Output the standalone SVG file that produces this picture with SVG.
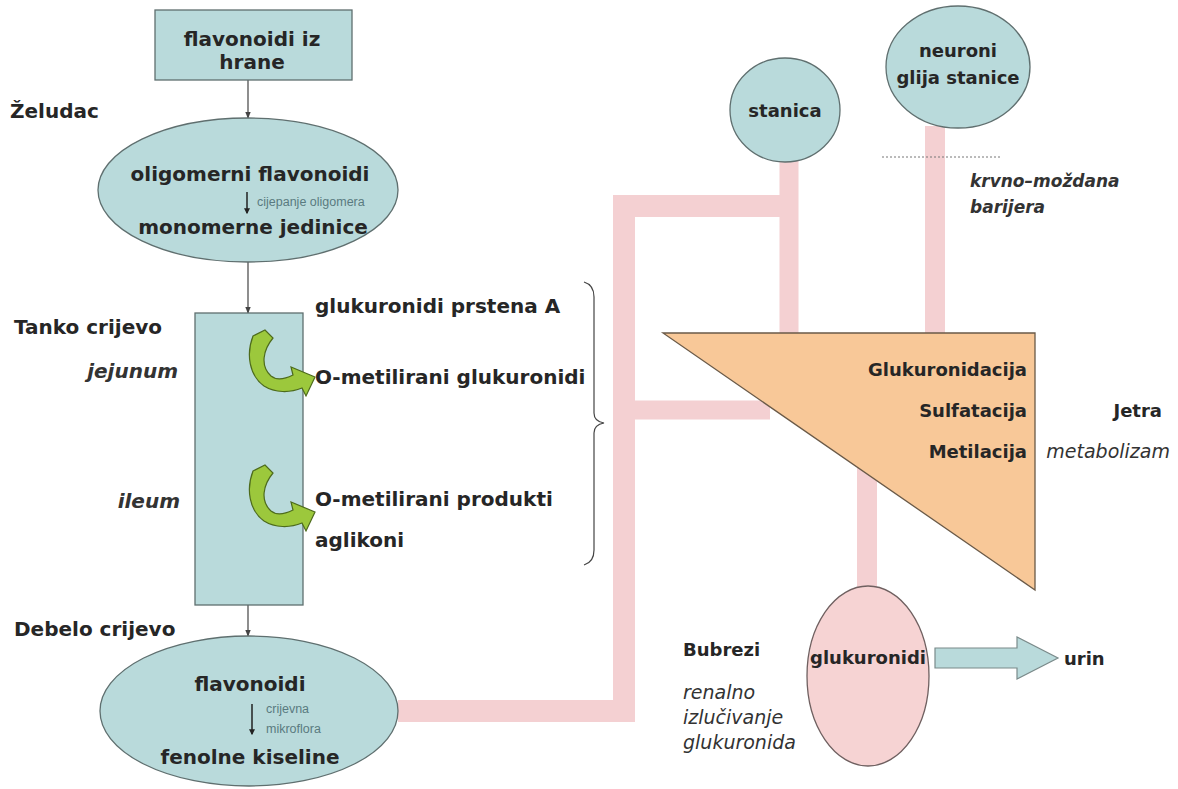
<svg xmlns="http://www.w3.org/2000/svg" width="1178" height="789" viewBox="0 0 1178 789">
<defs>
<style>
.d{font-family:"DejaVu Sans",Verdana,sans-serif;font-weight:bold;font-size:20px;fill:#262626}
.r{font-family:"DejaVu Sans",Verdana,sans-serif;font-weight:bold;font-size:18px;fill:#262626}
.di{font-family:"DejaVu Sans",Verdana,sans-serif;font-weight:bold;font-style:italic;font-size:20px;fill:#333}
.ri{font-family:"DejaVu Sans",Verdana,sans-serif;font-style:italic;font-size:19px;fill:#333}
.bi{font-family:"DejaVu Sans",Verdana,sans-serif;font-style:italic;font-weight:bold;font-size:17px;fill:#333}
.s{font-family:"Liberation Sans",Arial,sans-serif;font-size:12.5px;fill:#5a7a80}
.node{fill:#b9dadb;stroke:#5f6f6f;stroke-width:1.3}
.pipe{stroke:#f4d0d2;fill:none}
.thin{stroke:#444;stroke-width:1.2;fill:none}
.green{fill:#9cc83c;stroke:#4d6b1c;stroke-width:1.2}
</style>
<marker id="ah" viewBox="0 0 10 10" refX="9" refY="5" markerWidth="6" markerHeight="6" orient="auto"><path d="M0,1 L10,5 L0,9 Z" fill="#444"/></marker>
<marker id="ah2" viewBox="0 0 10 10" refX="8" refY="5" markerWidth="4" markerHeight="4" orient="auto"><path d="M0,0 L10,5 L0,10 Z" fill="#222"/></marker>
<path id="garrow" d="M8,6 L20,0 L28,8 C18,20 15,36 26,46 C32,51 40,49 48,45 L46,37 L70,47 L61,66 L57,58 C45,63 30,63 19,56 C4,45 1,24 8,6 Z"/>
</defs>
<rect width="1178" height="789" fill="#ffffff"/>

<g id="connectors">
<line class="thin" x1="248" y1="80" x2="248" y2="118" marker-end="url(#ah)"/>
<line class="thin" x1="248" y1="262" x2="248" y2="313" marker-end="url(#ah)"/>
<line class="thin" x1="248" y1="605" x2="248" y2="636" marker-end="url(#ah)"/>
<g class="pipe">
<path d="M398,711 H624 V206 H789" stroke-width="22"/>
<line x1="789" y1="158" x2="789" y2="334" stroke-width="19"/>
<line x1="624" y1="410" x2="770" y2="410" stroke-width="19"/>
<line x1="935" y1="126" x2="935" y2="334" stroke-width="20"/>
<line x1="867" y1="460" x2="867" y2="592" stroke-width="20"/>
</g>
<line x1="882" y1="157" x2="1002" y2="157" stroke="#777" stroke-width="1" stroke-dasharray="2,2"/>
<path class="thin" d="M584,282 C591,284 594,289 594,297 L594,413 C594,419 598,422 604,423 C598,424 594,427 594,433 L594,550 C594,558 591,563 584,565" stroke="#555"/>
</g>

<g id="hrana">
<rect class="node" x="155" y="10" width="197" height="70"/>
<text class="d" x="252" y="46" text-anchor="middle">flavonoidi iz</text>
<text class="d" x="252" y="69" text-anchor="middle">hrane</text>
</g>

<text class="d" x="10" y="118">Želudac</text>

<g id="zeludac">
<ellipse class="node" cx="248" cy="190" rx="150" ry="72"/>
<text class="d" x="250" y="181" text-anchor="middle">oligomerni flavonoidi</text>
<line x1="247" y1="192" x2="247" y2="213" stroke="#222" stroke-width="1.5" marker-end="url(#ah2)"/>
<text class="s" x="257" y="206">cijepanje oligomera</text>
<text class="d" x="253" y="234" text-anchor="middle">monomerne jedinice</text>
</g>

<text class="d" x="14" y="334">Tanko crijevo</text>
<text class="di" x="178" y="378" text-anchor="end">jejunum</text>
<text class="di" x="180" y="508" text-anchor="end">ileum</text>

<g id="tanko">
<rect class="node" x="195" y="313" width="108" height="292"/>
<use href="#garrow" class="green" x="245" y="330"/>
<use href="#garrow" class="green" x="245" y="465"/>
</g>

<g id="produkti">
<text class="d" x="315" y="313">glukuronidi prstena A</text>
<text class="d" x="315" y="384">O-metilirani glukuronidi</text>
<text class="d" x="315" y="506">O-metilirani produkti</text>
<text class="d" x="315" y="547">aglikoni</text>
</g>

<text class="d" x="14" y="636">Debelo crijevo</text>

<g id="debelo">
<ellipse class="node" cx="249" cy="711" rx="149" ry="75"/>
<text class="d" x="250" y="691" text-anchor="middle">flavonoidi</text>
<line x1="252" y1="704" x2="252" y2="734" stroke="#222" stroke-width="1.5" marker-end="url(#ah2)"/>
<text class="s" x="266" y="713">crijevna</text>
<text class="s" x="266" y="733">mikroflora</text>
<text class="d" x="250" y="764" text-anchor="middle">fenolne kiseline</text>
</g>

<g id="stanica">
<ellipse class="node" cx="785" cy="110" rx="55" ry="52"/>
<text class="r" x="785" y="117" text-anchor="middle">stanica</text>
</g>

<g id="neuroni">
<ellipse class="node" cx="958" cy="67" rx="72" ry="61"/>
<text class="r" x="958" y="57" text-anchor="middle">neuroni</text>
<text class="r" x="958" y="84" text-anchor="middle">glija stanice</text>
</g>

<text class="bi" x="970" y="187">krvno–moždana</text>
<text class="bi" x="970" y="213">barijera</text>

<g id="jetra">
<polygon points="663,333 1035,333 1035,590" fill="#f8c898" stroke="#6a5a48" stroke-width="1.3"/>
<text class="r" x="1027" y="376" text-anchor="end">Glukuronidacija</text>
<text class="r" x="1027" y="417" text-anchor="end">Sulfatacija</text>
<text class="r" x="1027" y="458" text-anchor="end">Metilacija</text>
</g>
<text class="r" x="1162" y="417" text-anchor="end">Jetra</text>
<text class="ri" x="1170" y="458" text-anchor="end">metabolizam</text>

<g id="bubrezi">
<ellipse cx="868" cy="676" rx="61" ry="90" fill="#f6d3d3" stroke="#6f6060" stroke-width="1.3"/>
<text class="r" x="868" y="664" text-anchor="middle">glukuronidi</text>
</g>
<text class="r" x="683" y="656">Bubrezi</text>
<text class="ri" x="683" y="699">renalno</text>
<text class="ri" x="683" y="724">izlučivanje</text>
<text class="ri" x="683" y="749">glukuronida</text>

<g id="urin">
<path d="M935,648 H1017 V637 L1058,658 L1017,679 V668 H935 Z" fill="#b9dadb" stroke="#7a8a8a" stroke-width="1.2"/>
<text class="r" x="1064" y="665">urin</text>
</g>
</svg>
